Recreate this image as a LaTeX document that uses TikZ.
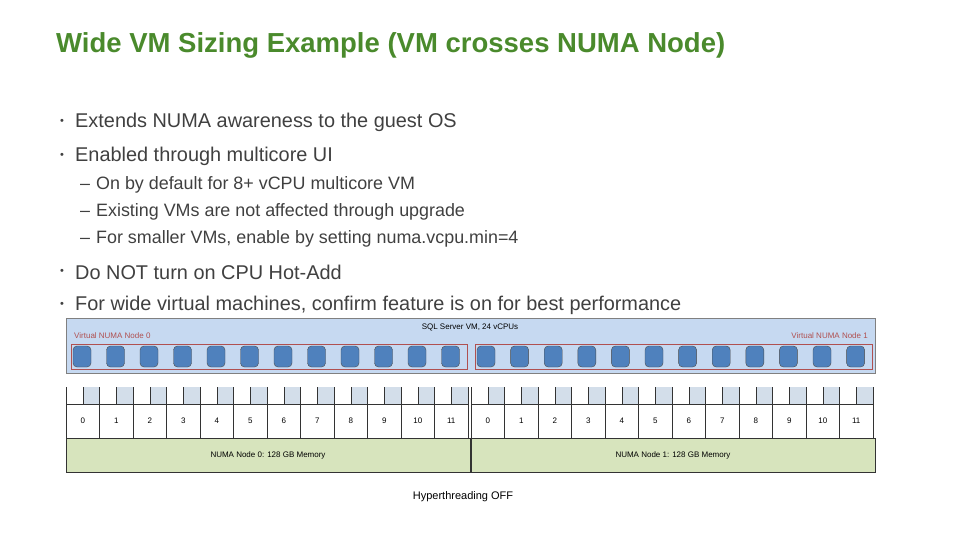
\documentclass[tikz,border=0pt]{standalone}
\usepackage{fontspec}
\setmainfont{Liberation Sans}
\usetikzlibrary{positioning,calc}
\definecolor{titlegreen}{HTML}{4A8A2C}
\definecolor{bodygray}{HTML}{404040}
\definecolor{vmblue}{HTML}{C6D9F1}
\definecolor{cpublue}{HTML}{4F81BD}
\definecolor{vnred}{HTML}{B05050}
\definecolor{htgray}{HTML}{D3DEEA}
\definecolor{memgreen}{HTML}{D7E4BD}
\begin{document}
\begin{tikzpicture}[x=1pt,y=-1pt,
  bullet/.style={anchor=west,inner sep=0pt,text=bodygray,font=\fontsize{19.9}{21}\selectfont},
  subitem/.style={anchor=west,inner sep=0pt,text=bodygray,font=\fontsize{17.9}{19}\selectfont},
  dot/.style={inner sep=0pt,text=bodygray,font=\fontsize{11}{12}\selectfont},
  vcpu/.style={rectangle,rounded corners=4pt,draw=black!70,fill=cpublue,minimum width=18pt,minimum height=21pt,inner sep=0pt},
  core/.style={rectangle,draw=black!80,fill=white,minimum width=33.5pt,minimum height=34pt,inner sep=0pt,font=\fontsize{8}{9}\selectfont},
  tiny/.style={inner sep=0pt,font=\fontsize{8}{9}\selectfont}]
\useasboundingbox (0,0) rectangle (960,540);
\node (title) [anchor=west,inner sep=0pt,text=titlegreen,font=\fontsize{27.5}{29}\selectfont\bfseries] at (56,45) {Wide VM Sizing Example (VM crosses NUMA Node)};
\foreach \y/\n in {122/1,156/2,272/3,305/4}
  \node (d\n) [dot] at (62,\y) {\textbullet};
\node (b1) [bullet] at (75,122) {Extends NUMA awareness to the guest OS};
\node (b2) [bullet] at (75,156) {Enabled through multicore UI};
\node (s1) [subitem] at (80,185) {–\hspace{6pt}On by default for 8+ vCPU multicore VM};
\node (s2) [subitem] at (80,212) {–\hspace{6pt}Existing VMs are not affected through upgrade};
\node (s3) [subitem] at (80,239) {–\hspace{6pt}For smaller VMs, enable by setting numa.vcpu.min=4};
\node (b3) [bullet] at (75,272) {Do NOT turn on CPU Hot-Add};
\node (b4) [bullet] at (75,305) {For wide virtual machines, confirm feature is on for best performance};
% VM box
\draw[draw=black!50,fill=vmblue] (66,318) rectangle (875,373);
\node (vm) [tiny] at (470,327) {SQL Server VM, 24 vCPUs};
\node (vn0) [tiny,anchor=west,text=vnred] at (74,336) {Virtual NUMA Node 0};
\node (vn1) [tiny,anchor=east,text=vnred] at (868,336) {Virtual NUMA Node 1};
\draw[vnred] (71,344) rectangle (467,369);
\draw[vnred] (475,344) rectangle (872,369);
\foreach \i in {0,...,11}{
  \node (va\i) [vcpu] at ({82+33.5*\i},356.5) {};
  \node (vb\i) [vcpu] at ({486+33.6*\i},356.5) {};
}
% sockets
\foreach \s/\x in {0/66,1/471}{
  \foreach \i in {0,...,11}{
    \fill[htgray] ({\x+33.5*\i+16.75},387) rectangle ({\x+33.5*\i+33.5},404);
    \draw[black!80] ({\x+33.5*\i+16.75},387) -- ({\x+33.5*\i+16.75},404);
    \draw[black!80] ({\x+33.5*\i},387) -- ({\x+33.5*\i},404);
    \node (c\s-\i) [core] at ({\x+33.5*\i+16.75},421) {\i};
  }
  \draw[black!80] ({\x+402},387) -- ({\x+402},404);
  \draw[black!80,fill=memgreen] (\x,438) rectangle ({\x+404},472);
}
\node (m0) [tiny] at (268,455) {NUMA Node 0: 128 GB Memory};
\node (m1) [tiny] at (673,455) {NUMA Node 1: 128 GB Memory};
\node (ht) [tiny,font=\fontsize{11}{12}\selectfont] at (463,497) {Hyperthreading OFF};
\end{tikzpicture}
\end{document}
